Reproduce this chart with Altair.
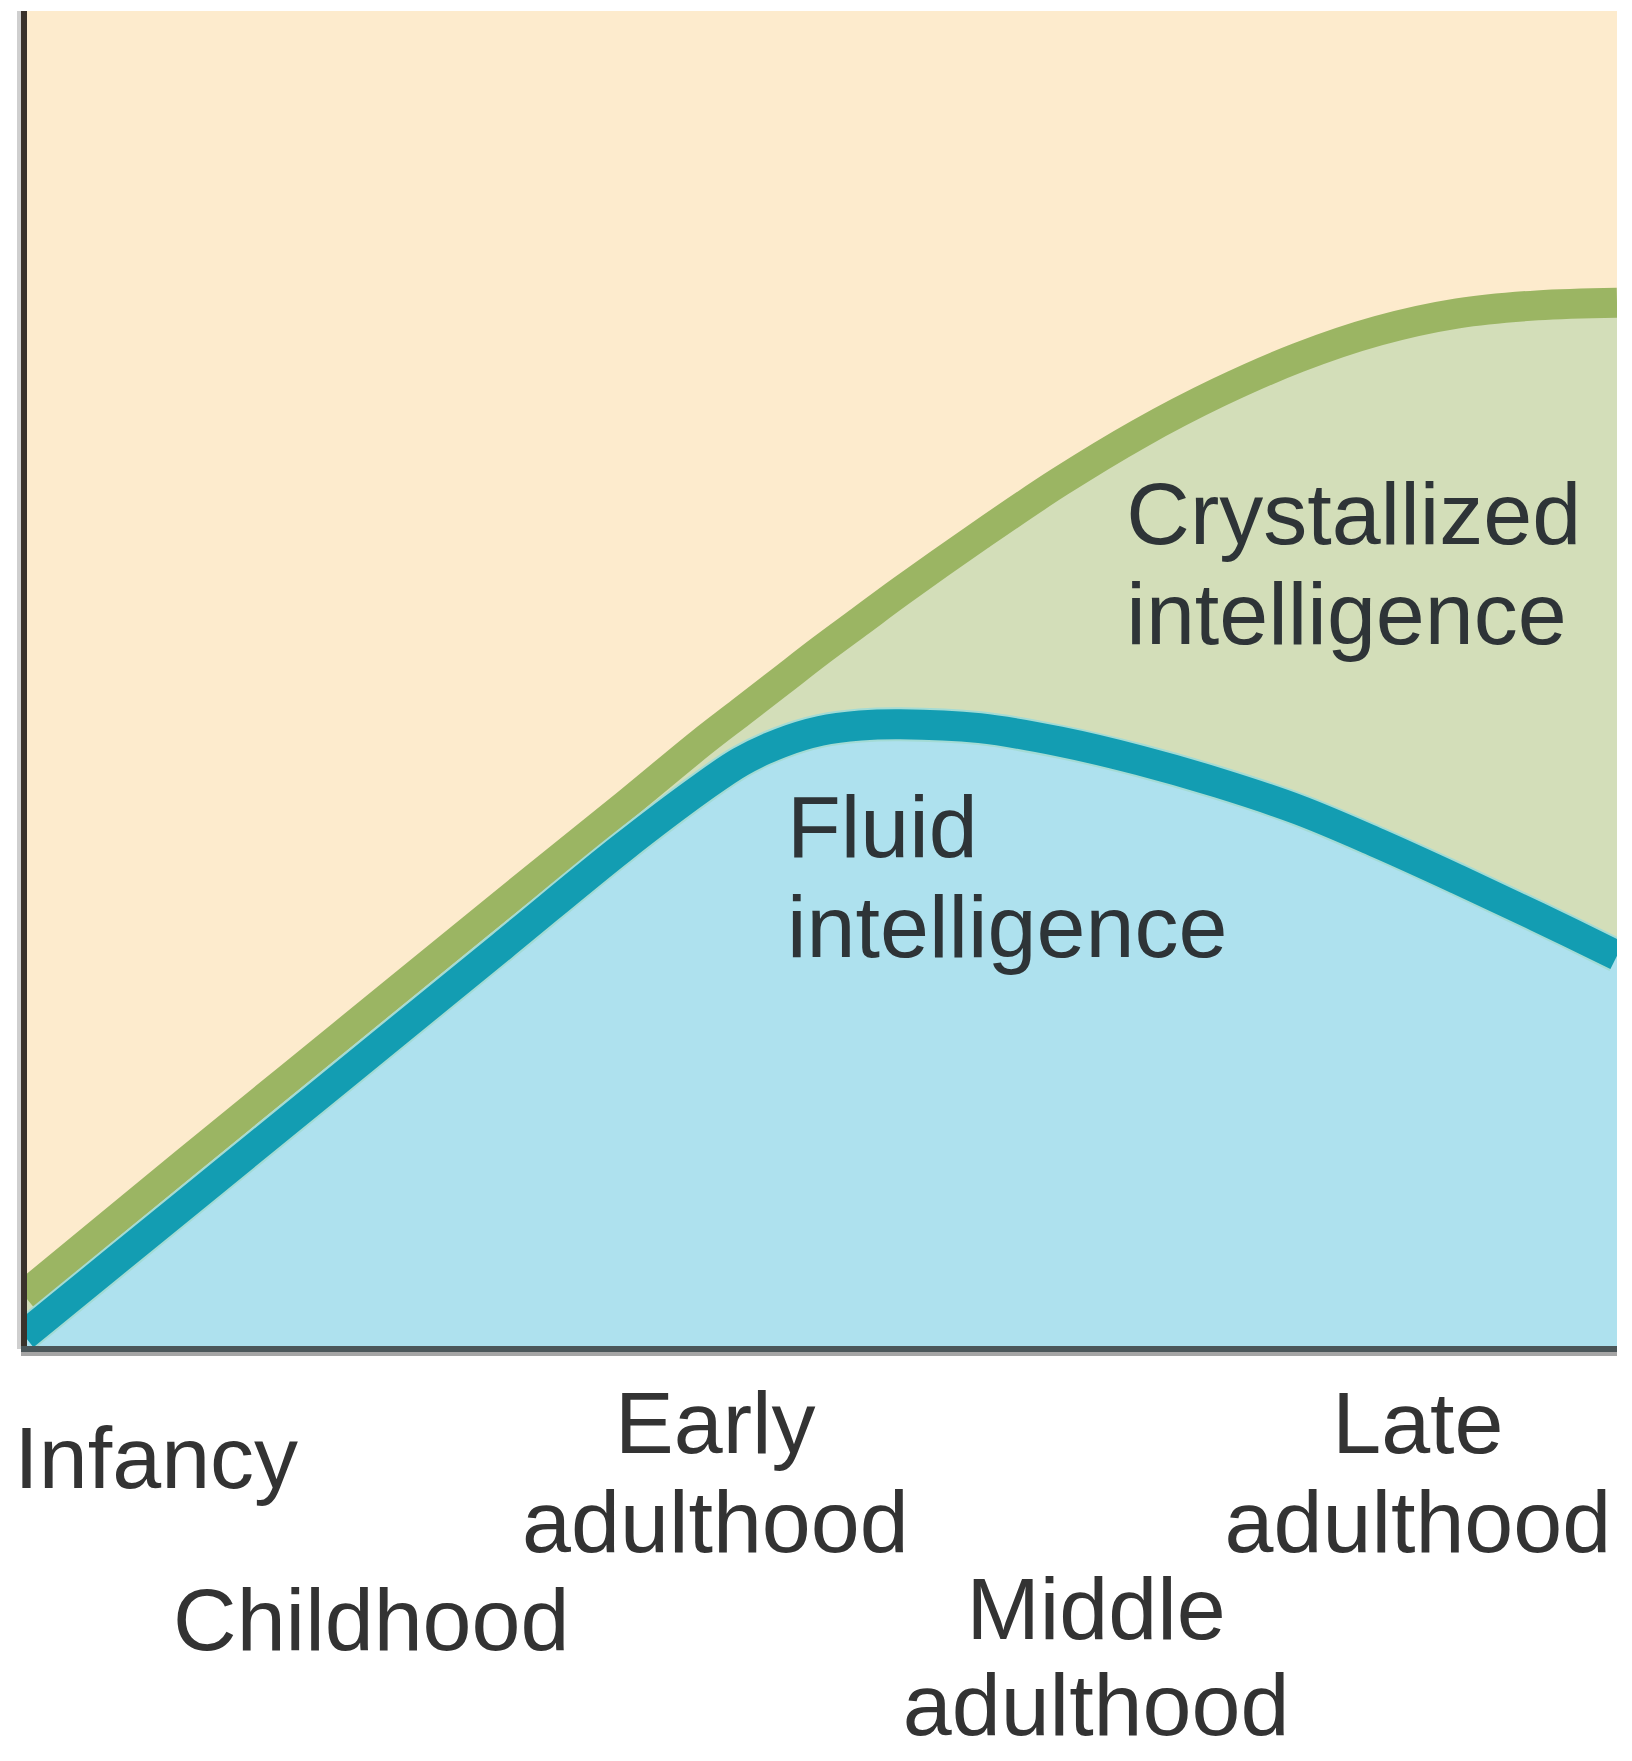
import altair as alt
import pandas as pd

# Life-span position (0 = birth, 100 = end of late adulthood)
age = [0, 10, 20, 30, 37.5, 42.5, 45, 47.5, 50, 52.5, 55, 60, 65, 70, 75, 80, 85, 90, 95, 100]
# Relative level of crystallized intelligence
crystallized = [4.0, 13.8, 23.5, 33.2, 40.4, 45.3, 47.6, 49.9, 52.2, 54.4, 56.6, 60.8, 64.8, 68.4, 71.5,
                74.1, 76.1, 77.4, 78.0, 78.2]
# Relative level of fluid intelligence
fluid = [1.0, 10.7, 20.4, 30.1, 37.4, 41.9, 43.9, 45.3, 46.2, 46.6, 46.7, 46.4, 45.4, 44.0, 42.3,
         40.3, 37.8, 35.1, 32.3, 29.4]

# Life stage labels under the axis
stage_labels = ["Infancy", "Childhood", "Early\nadulthood", "Middle\nadulthood", "Late\nadulthood"]
stage_x = [8.3, 21.8, 43.4, 67.3, 87.5]
stage_y = [-10.4, -22.5, -7.8, -21.7, -7.8]
stage_lh = [99, 99, 99, 96, 99]

# Curve labels
curve_labels = ["Crystallized\nintelligence", "Fluid\nintelligence"]
curve_x = [69.2, 47.9]
curve_y = [60.2, 36.8]

W, H = 1593, 1338

df = pd.DataFrame({"age": age, "crystallized": crystallized, "fluid": fluid})
stages = pd.DataFrame({"label": stage_labels, "x": stage_x, "y": stage_y})
curves = pd.DataFrame({"label": curve_labels, "x": curve_x, "y": curve_y})

xs = alt.Scale(domain=[0, 100], nice=False, zero=False)
ys = alt.Scale(domain=[0, 100], nice=False, zero=False)
interp = "catmull-rom"

base = alt.Chart(df)
X = alt.X("age:Q", scale=xs, axis=None)

cryst_area = base.mark_area(interpolate=interp, color="#D3DEB9", clip=True).encode(
    x=X,
    y=alt.Y("crystallized:Q", scale=ys, axis=None),
    y2="fluid:Q",
)
fluid_area = base.mark_area(interpolate=interp, color="#AEE1EE", clip=True).encode(
    x=X,
    y=alt.Y("fluid:Q", scale=ys, axis=None),
    y2=alt.datum(0),
)
cryst_line = base.mark_line(interpolate=interp, color="#9BB563", strokeWidth=30,
                            strokeCap="butt", clip=True).encode(
    x=X,
    y=alt.Y("crystallized:Q", scale=ys, axis=None),
)
fluid_outline = base.mark_line(interpolate=interp, color="#A3DBD5", strokeWidth=34,
                               strokeCap="butt", clip=True).encode(
    x=X,
    y=alt.Y("fluid:Q", scale=ys, axis=None),
)
fluid_line = base.mark_line(interpolate=interp, color="#139DB2", strokeWidth=30,
                            strokeCap="butt", clip=True).encode(
    x=X,
    y=alt.Y("fluid:Q", scale=ys, axis=None),
)

left_axis_shadow = alt.Chart(df).mark_rule(color="#cfcfcf", strokeWidth=4).encode(
    x=alt.value(-5), y=alt.value(0), y2=alt.value(H))
left_axis = alt.Chart(df).mark_rule(color="#3A322B", strokeWidth=6).encode(
    x=alt.value(0), y=alt.value(0), y2=alt.value(H + 3))
bottom_axis_shadow = alt.Chart(df).mark_rule(color="#a5a5a5", strokeWidth=4).encode(
    x=alt.value(-3), x2=alt.value(W), y=alt.value(H + 5))
bottom_axis = alt.Chart(df).mark_rule(color="#4B5659", strokeWidth=6).encode(
    x=alt.value(-3), x2=alt.value(W), y=alt.value(H))

stage_layers = []
for i in range(len(stage_labels)):
    one = pd.DataFrame({"label": [stage_labels[i]], "x": [stage_x[i]], "y": [stage_y[i]]})
    stage_layers.append(
        alt.Chart(one).mark_text(
            font="Liberation Sans", fontSize=88, color="#333333", align="center",
            baseline="alphabetic", lineBreak="\n", lineHeight=stage_lh[i], clip=False,
        ).encode(
            x=alt.X("x:Q", scale=xs, axis=None),
            y=alt.Y("y:Q", scale=ys, axis=None),
            text="label:N",
        )
    )

curve_text = alt.Chart(curves).mark_text(
    font="Liberation Sans", fontSize=88, color="#2E3437", align="left",
    baseline="alphabetic", lineBreak="\n", lineHeight=100, clip=False,
).encode(
    x=alt.X("x:Q", scale=xs, axis=None),
    y=alt.Y("y:Q", scale=ys, axis=None),
    text="label:N",
)

chart = alt.layer(
    cryst_area, fluid_area, cryst_line, fluid_outline, fluid_line,
    left_axis_shadow, bottom_axis_shadow, left_axis, bottom_axis,
    curve_text, *stage_layers,
).properties(
    width=W, height=H,
    autosize=alt.AutoSizeParams(type="none"),
    padding={"left": 16, "top": 3, "right": 7, "bottom": 404},
    background="white",
).configure_view(
    fill="#FDEBCD", stroke=None,
)

chart.save("out.html", embed_options={"renderer": "svg", "actions": False})
